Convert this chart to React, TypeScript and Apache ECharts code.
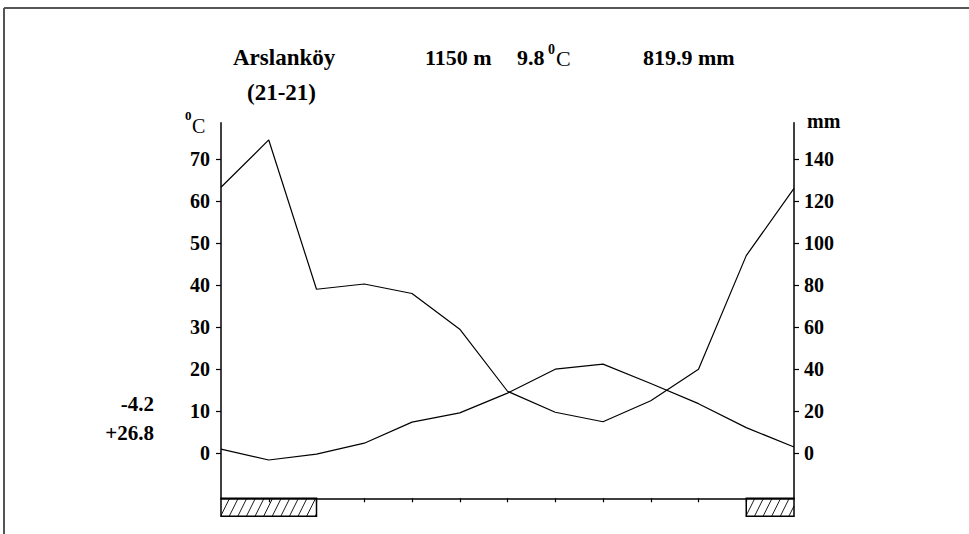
import React, { useEffect, useRef } from "react";
import * as echarts from "echarts";

// ---- data ----
const monthPositions = [0, 1, 2, 3, 4, 5, 6, 7, 8, 9, 10, 11, 12];
const temperature = [1.0, -1.6, -0.2, 2.4, 7.4, 9.6, 14.3, 20.0, 21.2, 16.6, 11.8, 6.1, 1.5];
const precipitation = [126.5, 149, 78, 80.5, 76, 59, 29.5, 19.5, 15, 25, 40, 94, 126];
const tempTicks = [0, 10, 20, 30, 40, 50, 60, 70];
const precipTicks = [0, 20, 40, 60, 80, 100, 120, 140];
const monthTicks = [1, 2, 3, 4, 5, 6, 7, 8, 9, 10, 11];
const frostPeriods = [
  [0, 2],
  [11, 12],
];
const stationName = "Arslanköy";
const observationPeriod = "(21-21)";
const altitude = "1150 m";
const meanTemp = "9.8";
const annualPrecip = "819.9 mm";
const coldestMin = "-4.2";
const warmestMax = "+26.8";

const TEMP_MIN = -10.7;
const TEMP_MAX = 78.6;

const FONT = "Liberation Serif";

export default function App() {
  const ref = useRef<HTMLDivElement>(null);

  useEffect(() => {
    if (!ref.current) return;
    const chart = echarts.init(ref.current, null, { renderer: "svg" });

    const txt = (
      text: string,
      x: number,
      y: number,
      size: number,
      align: string = "left",
      weight: string = "bold"
    ) => ({
      type: "text",
      x,
      y,
      silent: true,
      style: {
        text,
        fill: "#000",
        fontFamily: FONT,
        fontSize: size,
        fontWeight: weight,
        textAlign: align,
        textVerticalAlign: "middle",
      },
    });

    const labelStyle = {
      color: "#000",
      fontFamily: FONT,
      fontWeight: "bold",
      fontSize: 20,
    };

    const option: any = {
      animation: false,
      backgroundColor: "#fff",
      grid: { left: 221, top: 122.7, width: 573, height: 375.6, containLabel: false },
      xAxis: {
        type: "value",
        min: 0,
        max: 12,
        axisLine: { show: true, onZero: false, lineStyle: { color: "#000", width: 1.5 } },
        axisTick: { show: true, customValues: monthTicks, length: 4, lineStyle: { color: "#000", width: 1.2 } },
        axisLabel: { show: false },
        splitLine: { show: false },
      },
      yAxis: [
        {
          type: "value",
          position: "left",
          min: TEMP_MIN,
          max: TEMP_MAX,
          axisLine: { show: true, onZero: false, lineStyle: { color: "#000", width: 1.5 } },
          axisTick: { show: true, customValues: tempTicks, length: 5, lineStyle: { color: "#000", width: 1.2 } },
          axisLabel: { ...labelStyle, customValues: tempTicks, margin: 11 },
          splitLine: { show: false },
        },
        {
          type: "value",
          position: "right",
          min: TEMP_MIN * 2,
          max: TEMP_MAX * 2,
          axisLine: { show: true, onZero: false, lineStyle: { color: "#000", width: 1.5 } },
          axisTick: { show: true, customValues: precipTicks, length: 5, lineStyle: { color: "#000", width: 1.2 } },
          axisLabel: { ...labelStyle, customValues: precipTicks, margin: 10 },
          splitLine: { show: false },
        },
      ],
      series: [
        {
          type: "line",
          name: "Temperature",
          yAxisIndex: 0,
          data: monthPositions.map((m, i) => [m, temperature[i]]),
          symbol: "none",
          lineStyle: { color: "#000", width: 1.2 },
          silent: true,
        },
        {
          type: "line",
          name: "Precipitation",
          yAxisIndex: 1,
          data: monthPositions.map((m, i) => [m, precipitation[i]]),
          symbol: "none",
          lineStyle: { color: "#000", width: 1.2 },
          silent: true,
        },
        {
          type: "custom",
          name: "Frost",
          yAxisIndex: 0,
          clip: false,
          silent: true,
          data: frostPeriods,
          renderItem: (params: any, api: any) => {
            const a = api.coord([api.value(0), TEMP_MIN]);
            const b = api.coord([api.value(1), TEMP_MIN]);
            const x0 = a[0];
            const x1 = b[0];
            const y0 = a[1];
            const h = 18;
            const y1 = y0 + h;
            const children: any[] = [];
            const step = 8.6;
            for (let c = x0 - h / 2; c < x1; c += step) {
              let sx = c;
              let sy = y1;
              let ex = c + h / 2;
              let ey = y0;
              if (sx < x0) {
                sy = y1 - 2 * (x0 - c);
                sx = x0;
              }
              if (ex > x1) {
                ey = y1 - 2 * (x1 - c);
                ex = x1;
              }
              if (ex - sx < 0.5) continue;
              children.push({
                type: "line",
                shape: { x1: sx, y1: sy, x2: ex, y2: ey },
                style: { stroke: "#000", lineWidth: 0.9 },
              });
            }
            children.push({
              type: "rect",
              shape: { x: x0, y: y0, width: x1 - x0, height: h },
              style: { fill: "none", stroke: "#000", lineWidth: 1.5 },
            });
            return { type: "group", children };
          },
        },
      ],
      graphic: [
        { type: "line", silent: true, shape: { x1: 4, y1: 8, x2: 969, y2: 8 }, style: { stroke: "#555", lineWidth: 2 } },
        { type: "line", silent: true, shape: { x1: 4, y1: 8, x2: 4, y2: 534 }, style: { stroke: "#555", lineWidth: 2 } },
        txt(stationName, 233, 57, 23),
        txt(observationPeriod, 247, 92, 23),
        txt(altitude, 425, 57, 22),
        txt(meanTemp, 517, 57, 22),
        txt("0", 548, 49, 14),
        txt("C", 556, 58, 22, "left", "normal"),
        txt(annualPrecip, 643, 57, 22),
        txt("0", 185, 115, 13),
        txt("C", 192, 126, 20, "left", "normal"),
        txt("mm", 807, 121, 20),
        txt(coldestMin, 154, 404, 21, "right"),
        txt(warmestMax, 154, 433, 21, "right"),
      ],
    };

    chart.setOption(option);
    return () => chart.dispose();
  }, []);

  return (
    <div
      ref={ref}
      style={{ position: "absolute", left: 0, top: 0, width: 969, height: 534, background: "#fff" }}
    />
  );
}
